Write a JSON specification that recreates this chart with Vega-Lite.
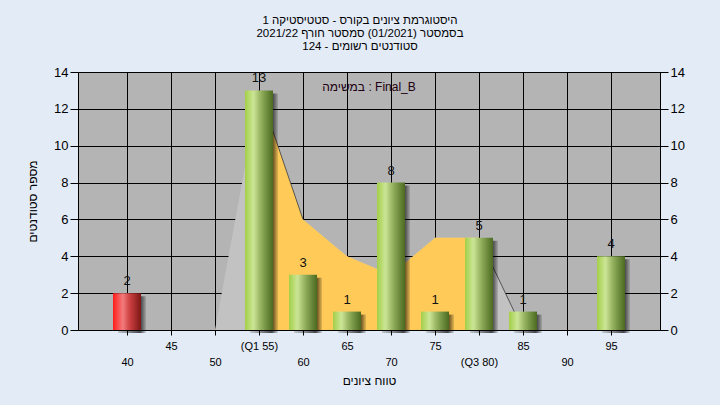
{
  "$schema": "https://vega.github.io/schema/vega-lite/v6.json",
  "autosize": {"type": "none"},
  "width": 582,
  "height": 258,
  "padding": {"left": 78, "top": 72, "right": 60, "bottom": 75},
  "background": "#e3ebf7",
  "config": {
    "view": {"fill": "#b4b4b4", "stroke": "black", "strokeWidth": 1},
    "font": "Liberation Sans",
    "axis": {"labelFont": "Liberation Sans", "titleFont": "Liberation Sans", "labelColor": "black", "titleColor": "black", "titleFontWeight": "normal", "domainColor": "black", "tickColor": "black", "gridColor": "black", "gridOpacity": 1, "gridWidth": 1}
  },
  "title": {
    "text": ["היסטוגרמת ציונים בקורס - סטטיסטיקה 1", "בסמסטר  (01/2021)  סמסטר חורף 2021/22", "סטודנטים רשומים - 124"],
    "fontSize": 11.5,
    "fontWeight": "normal",
    "font": "Liberation Sans Narrow, Liberation Sans",
    "color": "black",
    "anchor": "middle",
    "lineHeight": 13,
    "offset": 14,
    "dx": -9
  },
  "datasets": {
    "bars": [
      {"score": 40, "count": 2},
      {"score": 55, "count": 13},
      {"score": 60, "count": 3},
      {"score": 65, "count": 1},
      {"score": 70, "count": 8},
      {"score": 75, "count": 1},
      {"score": 80, "count": 5},
      {"score": 85, "count": 1},
      {"score": 95, "count": 4}
    ],
    "curve": [
      {"score": 50, "value": 0},
      {"score": 55, "value": 13},
      {"score": 60, "value": 6},
      {"score": 65, "value": 4},
      {"score": 70, "value": 3},
      {"score": 75, "value": 5},
      {"score": 80, "value": 5},
      {"score": 85, "value": 0},
      {"score": 90, "value": 0}
    ],
    "note": [{"label": "במשימה : Final_B"}]
  },
  "layer": [
    {
      "data": {"name": "curve"},
      "mark": {"type": "area", "color": "#c2c2c2", "opacity": 1},
      "encoding": {
        "x": {
          "field": "score",
          "type": "quantitative",
          "scale": {"domain": [35, 100], "nice": false, "zero": false},
          "axis": {
            "values": [40, 45, 50, 55, 60, 65, 70, 75, 80, 85, 90, 95],
            "labelExpr": "datum.value == 55 ? '(Q1 55)' : datum.value == 80 ? '(Q3 80)' : datum.label",
            "labelFontSize": 11,
            "labelPadding": {"condition": {"test": "datum.value % 10 == 0", "value": 21}, "value": 5},
            "tickSize": 5,
            "grid": true,
            "title": "טווח ציונים",
            "titleFontSize": 12,
            "titlePadding": 8
          }
        },
        "y": {
          "field": "value", "type": "quantitative",
          "scale": {"domain": [0, 14], "nice": false},
          "axis": {"orient": "left", "values": [0, 2, 4, 6, 8, 10, 12, 14], "grid": true, "tickSize": 8, "labelPadding": 2, "labelFontSize": 13, "title": "מספר סטודנטים", "titleFontSize": 12, "titlePadding": 14}
        }
      }
    },
    {
      "data": {"name": "curve"},
      "transform": [{"filter": "datum.score >= 55 && datum.score <= 80"}],
      "mark": {"type": "area", "color": "#ffca58", "opacity": 1},
      "encoding": {
        "x": {"field": "score", "type": "quantitative"},
        "y": {"field": "value", "type": "quantitative", "axis": null}
      }
    },
    {
      "data": {"name": "curve"},
      "transform": [{"filter": "datum.score >= 55 && datum.score <= 60"}],
      "mark": {"type": "line", "color": "#3a3a3a", "strokeWidth": 1, "opacity": 0.8},
      "encoding": {
        "x": {"field": "score", "type": "quantitative"},
        "y": {"field": "value", "type": "quantitative", "axis": null}
      }
    },
    {
      "data": {"name": "curve"},
      "transform": [{"filter": "datum.score >= 80 && datum.score <= 85"}],
      "mark": {"type": "line", "color": "#3a3a3a", "strokeWidth": 1, "opacity": 0.8},
      "encoding": {
        "x": {"field": "score", "type": "quantitative"},
        "y": {"field": "value", "type": "quantitative", "axis": null}
      }
    },
    {
      "data": {"name": "bars"},
      "mark": {"type": "bar", "width": 28, "xOffset": 5, "yOffset": 3,
        "color": {"gradient": "linear", "x1": 0, "x2": 1, "y1": 0, "y2": 0, "stops": [{"offset": 0, "color": "rgba(0,0,0,0.15)"}, {"offset": 0.78, "color": "rgba(0,0,0,0.7)"}, {"offset": 1, "color": "rgba(0,0,0,0.1)"}]}},
      "encoding": {
        "x": {"field": "score", "type": "quantitative"},
        "y": {"field": "count", "type": "quantitative", "axis": null}
      }
    },
    {
      "data": {"name": "bars"},
      "transform": [{"filter": "datum.score != 40"}],
      "mark": {"type": "bar", "width": 28,
        "color": {"gradient": "linear", "x1": 0, "x2": 1, "y1": 0, "y2": 0, "stops": [{"offset": 0, "color": "#a2cf48"}, {"offset": 0.3, "color": "#cce596"}, {"offset": 0.6, "color": "#8dab58"}, {"offset": 1, "color": "#4c6a20"}]}},
      "encoding": {
        "x": {"field": "score", "type": "quantitative"},
        "y": {"field": "count", "type": "quantitative", "axis": null}
      }
    },
    {
      "data": {"name": "bars"},
      "transform": [{"filter": "datum.score == 40"}],
      "mark": {"type": "bar", "width": 28,
        "color": {"gradient": "linear", "x1": 0, "x2": 1, "y1": 0, "y2": 0, "stops": [{"offset": 0, "color": "#ff1c1c"}, {"offset": 0.35, "color": "#f27c7c"}, {"offset": 0.6, "color": "#cc4040"}, {"offset": 1, "color": "#7c1616"}]}},
      "encoding": {
        "x": {"field": "score", "type": "quantitative"},
        "y": {"field": "count", "type": "quantitative", "axis": null}
      }
    },
    {
      "data": {"name": "bars"},
      "mark": {"type": "text", "baseline": "bottom", "dy": -5, "fontSize": 13, "color": "#111111"},
      "encoding": {
        "x": {"field": "score", "type": "quantitative"},
        "y": {"field": "count", "type": "quantitative",
          "axis": {"orient": "right", "values": [0, 2, 4, 6, 8, 10, 12, 14], "grid": false, "tickSize": 8, "labelPadding": 2, "labelFontSize": 13, "title": null}},
        "text": {"field": "count", "type": "quantitative"}
      }
    },
    {
      "data": {"name": "note"},
      "mark": {"type": "text", "fontSize": 12, "color": "#200010", "font": "Liberation Sans"},
      "encoding": {
        "x": {"datum": 67.5, "type": "quantitative"},
        "y": {"datum": 13.2, "type": "quantitative", "axis": null},
        "text": {"field": "label", "type": "nominal"}
      }
    }
  ],
  "resolve": {"scale": {"y": "shared"}, "axis": {"y": "independent"}}
}
